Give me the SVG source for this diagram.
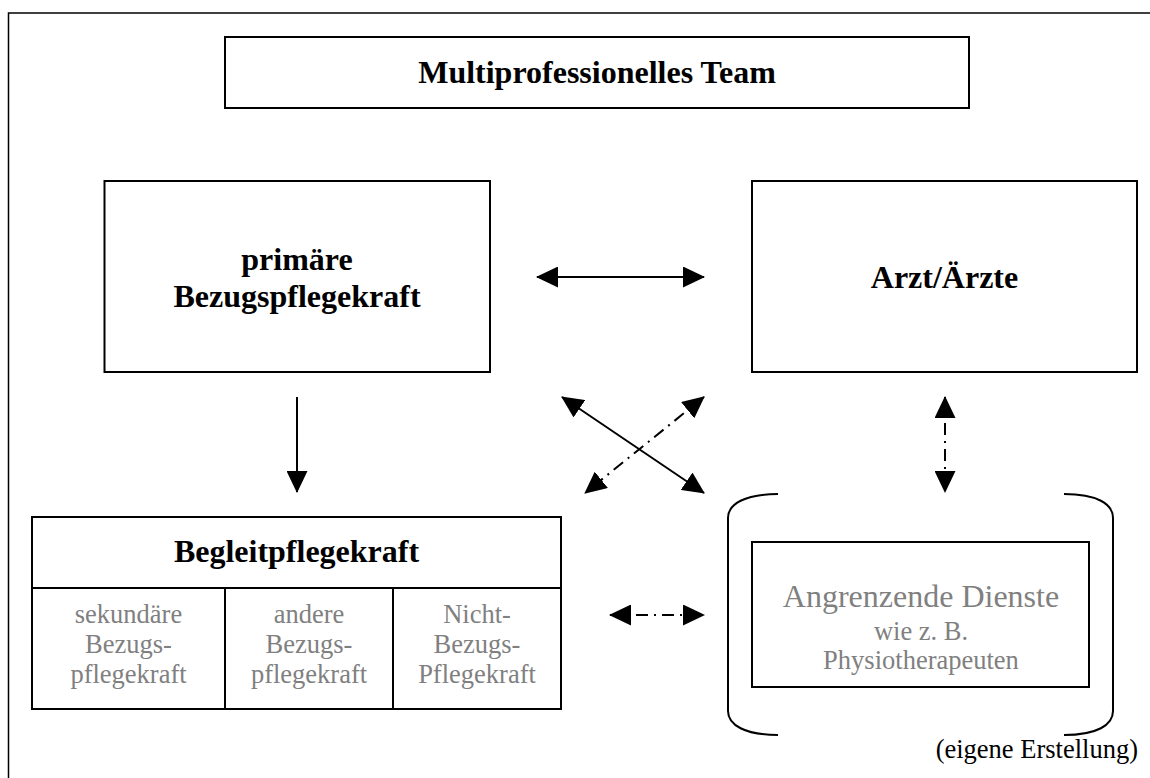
<svg xmlns="http://www.w3.org/2000/svg" width="1150" height="778" viewBox="0 0 1150 778">
<style>
.box{fill:#fff;stroke:#000;stroke-width:2}
.frame{fill:#fff;stroke:#000;stroke-width:1.5}
.b{font-family:"Liberation Serif","Times New Roman",serif;font-weight:bold;font-size:32px;fill:#000;text-anchor:middle}
.g{font-family:"Liberation Serif","Times New Roman",serif;font-size:26.5px;fill:#808080;text-anchor:middle}
.gl{font-family:"Liberation Serif","Times New Roman",serif;font-size:32px;fill:#808080;text-anchor:middle}
.n{font-family:"Liberation Serif","Times New Roman",serif;font-size:26.5px;fill:#000;text-anchor:end}
.c{fill:none;stroke:#000;stroke-width:2}
.dd{stroke-dasharray:12 6 2 6}
.br{fill:none;stroke:#000;stroke-width:2}
</style>
<defs>
<marker id="ah" markerUnits="userSpaceOnUse" markerWidth="22" markerHeight="21" refX="21" refY="10.5" orient="auto-start-reverse" viewBox="0 0 22 21">
<path d="M0,0 L22,10.5 L0,21 z" fill="#000"/>
</marker>
</defs>
<rect class="frame" x="8.5" y="13" width="1160" height="800"/>
<g id="title">
<rect class="box" x="225" y="37" width="744" height="71"/>
<text class="b" x="597" y="83">Multiprofessionelles Team</text>
</g>
<g id="primaer">
<rect class="box" x="104.5" y="181" width="385.5" height="191"/>
<text class="b" x="297" y="270">primäre</text>
<text class="b" x="297" y="307">Bezugspflegekraft</text>
</g>
<g id="arzt">
<rect class="box" x="752" y="181" width="385" height="191"/>
<text class="b" x="944.5" y="288">Arzt/Ärzte</text>
</g>
<g id="begleit">
<rect class="box" x="32" y="517" width="529" height="192"/>
<line class="c" x1="32" y1="588" x2="561" y2="588"/>
<line class="c" x1="225" y1="588" x2="225" y2="709"/>
<line class="c" x1="393" y1="588" x2="393" y2="709"/>
<text class="b" x="296.5" y="562">Begleitpflegekraft</text>
<text class="g" x="128.5" y="623">sekundäre</text>
<text class="g" x="128.5" y="653">Bezugs-</text>
<text class="g" x="128.5" y="683">pflegekraft</text>
<text class="g" x="309" y="623">andere</text>
<text class="g" x="309" y="653">Bezugs-</text>
<text class="g" x="309" y="683">pflegekraft</text>
<text class="g" x="477" y="623">Nicht-</text>
<text class="g" x="477" y="653">Bezugs-</text>
<text class="g" x="477" y="683">Pflegekraft</text>
</g>
<g id="dienste">
<path class="br" d="M778,494 C745,494 728,504 728,518 L728,711 C728,725 745,735 778,735"/>
<path class="br" d="M1064,494 C1097,494 1113,504 1113,518 L1113,711 C1113,725 1097,735 1064,735"/>
<rect class="box" x="752" y="542" width="337" height="145"/>
<text class="gl" x="921" y="607">Angrenzende Dienste</text>
<text class="g" x="921" y="640">wie z. B.</text>
<text class="g" x="921" y="669">Physiotherapeuten</text>
</g>
<g id="connectors">
<line class="c" x1="537" y1="277" x2="704" y2="277" marker-start="url(#ah)" marker-end="url(#ah)"/>
<line class="c" x1="297" y1="397" x2="297" y2="492" marker-end="url(#ah)"/>
<line class="c" x1="562" y1="397" x2="704" y2="493" marker-start="url(#ah)" marker-end="url(#ah)"/>
<line class="c dd" x1="704" y1="397" x2="585" y2="493" marker-start="url(#ah)" marker-end="url(#ah)"/>
<line class="c dd" x1="945" y1="397" x2="945" y2="492" marker-start="url(#ah)" marker-end="url(#ah)"/>
<line class="c dd" x1="610" y1="615" x2="704" y2="615" marker-start="url(#ah)" marker-end="url(#ah)"/>
</g>
<text class="n" x="1138" y="758">(eigene Erstellung)</text>
</svg>
